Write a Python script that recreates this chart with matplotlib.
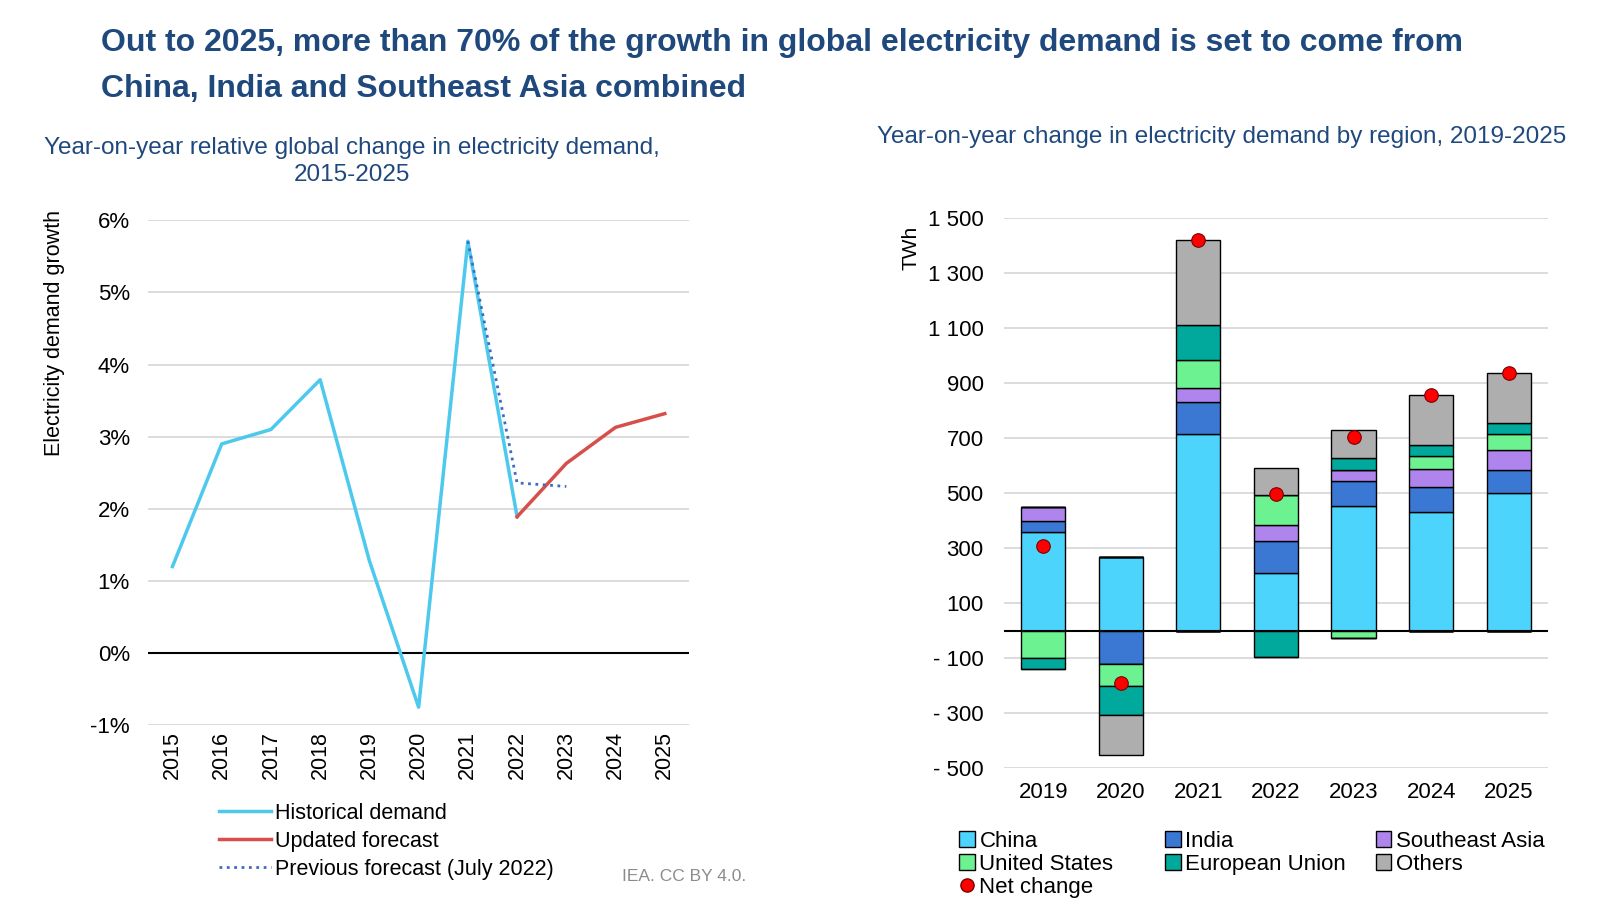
import numpy as np
import matplotlib.pyplot as plt
from matplotlib.lines import Line2D
from matplotlib.patches import Patch
from matplotlib.ticker import FuncFormatter

plt.rcParams['font.family'] = ['Liberation Sans', 'DejaVu Sans']

# Left chart: relative change in global demand (%)
years_left = ['2015', '2016', '2017', '2018', '2019', '2020', '2021', '2022', '2023', '2024', '2025']
historical = [1.2, 2.9, 3.1, 3.79, 1.28, -0.75, 5.71, 1.89]
updated = [1.89, 2.63, 3.13, 3.32]          # 2022-2025
previous = [5.71, 2.36, 2.31]               # 2021-2023

# Right chart: change by region (TWh)
years_right = ['2019', '2020', '2021', '2022', '2023', '2024', '2025']
regions = ['China', 'India', 'Southeast Asia', 'United States', 'European Union', 'Others']
china = [361, 270, 715, 211, 454, 432, 500]
india = [40, -120, 118, 115, 92, 90, 85]
sea = [50, 0, 52, 59, 41, 66, 73]
us = [-98, -80, 102, 110, -25, 48, 58]
eu = [-40, -105, 125, -94, 41, 40, 40]
others = [0, -148, 308, 99, 103, 183, 182]
net_change = [310, -189, 1420, 498, 705, 859, 938]

region_colors = ['#4DD4FD', '#3B78D3', '#AF84EC', '#6CF291', '#00A99B', '#AEAEAE']
title_col = '#1F497D'
grid_col = '#D9D9D9'

fig = plt.figure(figsize=(16.07, 9.18), dpi=100)

fig.text(0.063, 0.953, "Out to 2025, more than 70% of the growth in global electricity demand is set to come from",
         fontsize=23, fontweight='bold', color=title_col, va='center', ha='left')
fig.text(0.063, 0.903, "China, India and Southeast Asia combined",
         fontsize=23, fontweight='bold', color=title_col, va='center', ha='left')

# ---- left: line chart
ax1 = fig.add_axes([0.092, 0.21, 0.337, 0.55])
x = np.arange(len(years_left))
ax1.set_xlim(-0.5, len(years_left) - 0.5)
ax1.set_ylim(-1, 6)
ax1.set_yticks(np.arange(-1, 7))
ax1.yaxis.set_major_formatter(FuncFormatter(lambda v, p: f"{int(v)}%"))
ax1.grid(axis='y', color=grid_col, lw=1.3)
ax1.set_axisbelow(True)
ax1.axhline(0, color='black', lw=1.5)
for s in ax1.spines.values():
    s.set_visible(False)
ax1.tick_params(axis='y', length=0, labelsize=16, pad=13)
ax1.tick_params(axis='x', length=0, labelsize=15.5, pad=4)
ax1.set_xticks(x)
ax1.set_xticklabels(years_left, rotation=90)

ax1.plot(x[:len(historical)], historical, color='#4DC9EE', lw=2.5)
ax1.plot(x[7:7 + len(updated)], updated, color='#D64F4A', lw=2.5)
ax1.plot(x[6:6 + len(previous)], previous, color='#3E6CC0', lw=2, linestyle=':')

fig.text(0.034, 0.637, "Electricity demand growth", rotation=90, fontsize=15.5, va='center', ha='center')
fig.text(0.219, 0.824, "Year-on-year relative global change in electricity demand,\n2015-2025",
         fontsize=17.5, color=title_col, ha='center', va='center', linespacing=1.25)

left_handles = [Line2D([], [], color='#4DC9EE', lw=2.5),
                Line2D([], [], color='#D64F4A', lw=2.5),
                Line2D([], [], color='#3E6CC0', lw=2, linestyle=':')]
fig.legend(left_handles, ['Historical demand', 'Updated forecast', 'Previous forecast (July 2022)'],
           loc='upper left', bbox_to_anchor=(0.131, 0.135), frameon=False, fontsize=15.5,
           handlelength=2.4, handletextpad=0.2, labelspacing=0.33, borderaxespad=0)

fig.text(0.387, 0.045, "IEA. CC BY 4.0.", fontsize=12.5, color='#8C8C8C', ha='left', va='center')

# ---- right: stacked bars
ax2 = fig.add_axes([0.625, 0.163, 0.338, 0.599])
xb = np.arange(len(years_right))
series = [china, india, sea, us, eu, others]
pos_base = np.zeros(len(xb))
neg_base = np.zeros(len(xb))
for vals, col in zip(series, region_colors):
    v = np.array(vals, dtype=float)
    p = np.where(v > 0, v, 0)
    n = np.where(v < 0, v, 0)
    ax2.bar(xb, p, bottom=pos_base, width=0.57, color=col, edgecolor='black', lw=1.0, zorder=3)
    ax2.bar(xb, n, bottom=neg_base, width=0.57, color=col, edgecolor='black', lw=1.0, zorder=3)
    pos_base += p
    neg_base += n
ax2.scatter(xb, net_change, s=95, color='#FF0000', edgecolor='#7A0000', lw=0.8, zorder=5)

ax2.set_xlim(-0.5, len(xb) - 0.5)
ax2.set_ylim(-500, 1500)
ax2.set_yticks(np.arange(-500, 1501, 200))
def twh_fmt(v, p):
    s = f"{abs(int(v)):,}".replace(",", " ")
    return f"- {s}" if v < 0 else s
ax2.yaxis.set_major_formatter(FuncFormatter(twh_fmt))
ax2.grid(axis='y', color=grid_col, lw=1.3)
ax2.set_axisbelow(True)
ax2.axhline(0, color='black', lw=1.5, zorder=4)
for s in ax2.spines.values():
    s.set_visible(False)
ax2.tick_params(axis='y', length=0, labelsize=16, pad=15)
ax2.tick_params(axis='x', length=0, labelsize=16, pad=10)
ax2.set_xticks(xb)
ax2.set_xticklabels(years_right)

fig.text(0.567, 0.73, "TWh", rotation=90, fontsize=15, va='center', ha='center')
fig.text(0.76, 0.851, "Year-on-year change in electricity demand by region, 2019-2025",
         fontsize=17.5, color=title_col, ha='center', va='center')

patches = [Patch(facecolor=c, edgecolor='black', lw=1.0) for c in region_colors]
net_handle = Line2D([], [], marker='o', color='none', markerfacecolor='#FF0000',
                    markeredgecolor='#7A0000', markersize=9.5)
# one legend per column so the columns sit where the reference puts them
legend_cols = [
    (0.597, [patches[0], patches[3], net_handle], ['China', 'United States', 'Net change']),
    (0.725, [patches[1], patches[4]], ['India', 'European Union']),
    (0.856, [patches[2], patches[5]], ['Southeast Asia', 'Others']),
]
for xpos, hh, ll in legend_cols:
    fig.legend(hh, ll, loc='upper left', bbox_to_anchor=(xpos, 0.095), frameon=False,
               fontsize=16, handlelength=0.7, handleheight=0.7, handletextpad=0.2,
               labelspacing=0.1, borderaxespad=0, borderpad=0)

fig.savefig("out.png", dpi=100)
